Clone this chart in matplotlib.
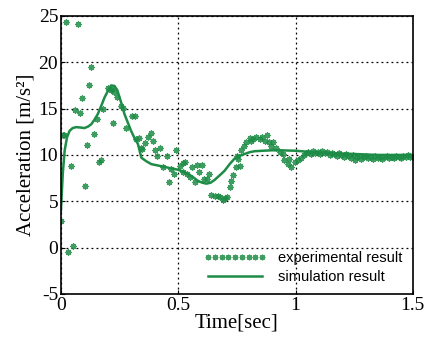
import numpy as np
import matplotlib
matplotlib.use("Agg")
import matplotlib.pyplot as plt

plt.rcParams["axes.unicode_minus"] = False

# measured acceleration samples
exp_t = [0.001, 0.010, 0.014, 0.021, 0.030, 0.041, 0.050, 0.061, 0.072, 0.081,
         0.089, 0.101, 0.112, 0.121, 0.129, 0.140, 0.152, 0.163, 0.169, 0.180,
         0.200, 0.212, 0.217, 0.221, 0.228, 0.240, 0.254, 0.264, 0.278, 0.302,
         0.314, 0.320, 0.332, 0.340, 0.346, 0.357, 0.372, 0.383, 0.391, 0.400,
         0.411, 0.421, 0.435, 0.451, 0.461, 0.471, 0.481, 0.492, 0.506, 0.520,
         0.520, 0.530, 0.539, 0.549, 0.560, 0.570, 0.580, 0.587, 0.601, 0.610,
         0.624, 0.630, 0.641, 0.655, 0.670, 0.680, 0.691, 0.700, 0.709, 0.719,
         0.726, 0.733, 0.745, 0.750, 0.754, 0.762, 0.769, 0.779, 0.790, 0.804,
         0.811, 0.818, 0.833, 0.847, 0.858, 0.868, 0.880, 0.886, 0.896, 0.903,
         0.918, 0.932, 0.946, 0.953, 0.967, 0.971, 0.982, 0.996, 1.010, 1.024,
         1.035, 1.045, 1.055, 1.065, 1.075, 1.085, 1.095, 1.105, 1.115, 1.125,
         1.135, 1.145, 1.155, 1.165, 1.175, 1.185, 1.195, 1.205, 1.215, 1.225,
         1.235, 1.245, 1.255, 1.262, 1.270, 1.280, 1.290, 1.300, 1.310, 1.320,
         1.330, 1.340, 1.350, 1.360, 1.370, 1.380, 1.390, 1.400, 1.410, 1.420,
         1.430, 1.440, 1.450, 1.460, 1.470, 1.480, 1.490, 1.500]
exp_a = [2.9, 12.2, 12.2, 24.3, -0.5, 8.85, 0.2, 14.9, 24.1, 14.5,
         16.1, 6.6, 11.1, 17.6, 19.5, 12.3, 13.9, 9.2, 9.5, 15.0,
         17.2, 17.0, 17.1, 13.4, 16.8, 16.3, 15.3, 15.1, 12.9, 14.2,
         14.2, 11.7, 11.8, 10.8, 10.6, 11.25, 11.9, 12.4, 11.5, 10.5,
         9.85, 10.8, 8.7, 9.9, 7.1, 8.5, 7.95, 10.5, 8.85, 9.1,
         8.2, 9.2, 7.95, 7.6, 8.7, 7.1, 8.95, 8.2, 8.95, 7.4,
         7.4, 7.9, 5.7, 5.6, 5.6, 5.5, 5.1, 5.35, 5.5, 6.5,
         7.2, 7.8, 8.7, 9.9, 9.6, 8.85, 10.5, 11.0, 11.4, 11.8,
         11.5, 11.7, 11.9, 11.7, 11.9, 11.5, 12.2, 11.4, 11.0, 11.4,
         10.75, 10.3, 10.1, 9.4, 9.0, 9.6, 8.7, 9.2, 9.4, 9.7,
         10.0, 10.2, 10.3, 10.1, 10.4, 10.2, 10.3, 10.1, 10.4, 10.2,
         10.3, 10.0, 10.2, 10.1, 9.9, 10.2, 10.0, 9.8, 10.1, 9.9,
         9.7, 10.0, 9.5, 9.8, 9.9, 9.6, 9.8, 9.9, 9.7, 9.8,
         9.6, 9.9, 9.7, 9.8, 9.6, 9.8, 9.9, 9.7, 9.8, 9.7,
         9.9, 9.8, 9.7, 9.9, 9.8, 10.0, 9.8, 9.8]

# model output
sim_t = [0.0, 0.008, 0.016, 0.026, 0.037, 0.050, 0.065, 0.085, 0.100, 0.115,
         0.129, 0.143, 0.157, 0.172, 0.186, 0.200, 0.214, 0.228, 0.240, 0.250,
         0.260, 0.271, 0.285, 0.299, 0.314, 0.328, 0.343, 0.365, 0.386, 0.415,
         0.443, 0.470, 0.499, 0.520, 0.542, 0.563, 0.584, 0.603, 0.620, 0.638,
         0.655, 0.677, 0.698, 0.719, 0.740, 0.761, 0.783, 0.805, 0.826, 0.860,
         0.900, 0.932, 1.000, 1.070, 1.150, 1.250, 1.350, 1.450, 1.500]
sim_a = [4.0, 8.0, 10.5, 11.9, 12.6, 12.9, 13.0, 12.95, 12.9, 13.05,
         13.3, 13.8, 14.4, 15.3, 16.2, 16.9, 17.5, 17.45, 17.0, 16.2,
         15.4, 14.4, 13.5, 12.6, 11.8, 11.2, 9.7, 9.3, 9.0, 8.85,
         8.7, 8.55, 8.4, 8.2, 7.95, 7.6, 7.2, 7.0, 6.9, 7.0,
         7.3, 7.8, 8.3, 9.0, 9.6, 9.9, 10.1, 10.3, 10.4, 10.45,
         10.5, 10.5, 10.45, 10.3, 10.2, 10.1, 10.0, 10.0, 10.0]

green = "#1d8c46"
serif = ["Liberation Serif", "DejaVu Serif"]
sans = ["Liberation Sans", "DejaVu Sans"]

fig = plt.figure(figsize=(4.26, 3.39), dpi=100)
ax = fig.add_axes([0.143, 0.133, 0.826, 0.820])

ax.plot(exp_t, exp_a, linestyle="none", marker=(8, 2, 0), markersize=4.5,
        markeredgewidth=0.9, color=green, alpha=0.85, label="experimental result")
ax.plot(sim_t, sim_a, color=green, linewidth=1.8, label="simulation result")

ax.set_xlim(0, 1.5)
ax.set_ylim(-5, 25)
ax.set_xticks([0, 0.5, 1, 1.5])
ax.set_xticklabels(["0", "0.5", "1", "1.5"])
ax.set_yticks([-5, 0, 5, 10, 15, 20, 25])
ax.grid(True, color="black", linestyle=(0, (1.5, 2.5)), linewidth=0.9)
ax.tick_params(direction="in", length=3, width=0.8, labelsize=14, pad=2)
for lab in ax.get_xticklabels() + ax.get_yticklabels():
    lab.set_family(serif)
for sp in ax.spines.values():
    sp.set_linewidth(1.2)

ax.set_xlabel("Time[sec]", family=serif, fontsize=15, labelpad=0)
ax.set_ylabel("Acceleration [m/s²]", family=serif, fontsize=15, labelpad=2)

leg = ax.legend(loc="lower right", bbox_to_anchor=(1.0, 0.0), frameon=False,
                numpoints=9, handlelength=4.3, handletextpad=0.8,
                labelspacing=0.3, borderaxespad=0.3,
                prop={"family": sans, "size": 10.5})
for h in leg.legend_handles[:1]:
    h.set_markersize(4)

fig.savefig("out.png", dpi=100)
